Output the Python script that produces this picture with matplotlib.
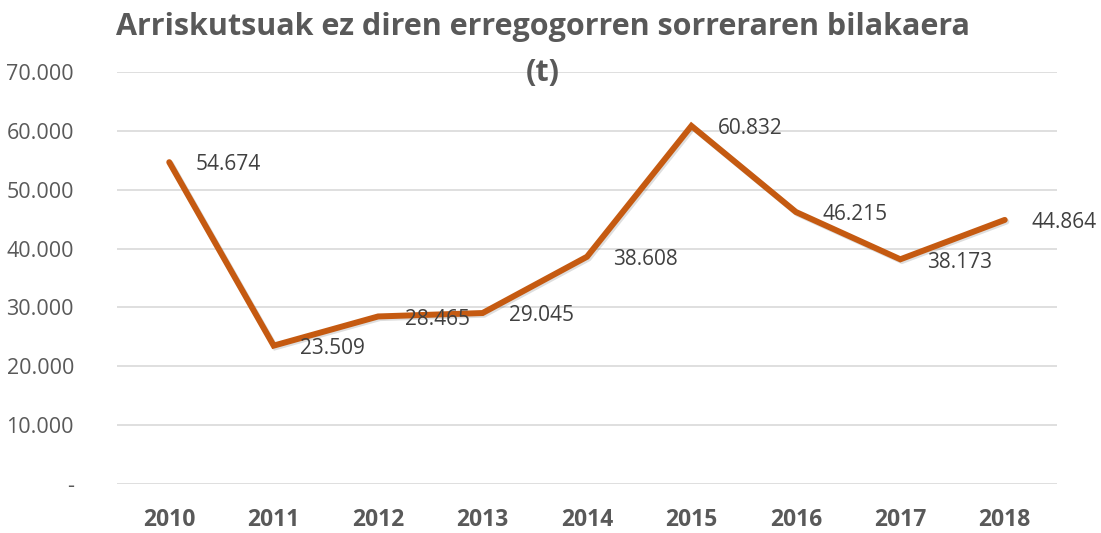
import matplotlib
matplotlib.use("Agg")
import matplotlib.pyplot as plt
import matplotlib.patheffects as pe
from matplotlib.ticker import FuncFormatter

plt.rcParams['font.family'] = ['Open Sans', 'DejaVu Sans']

# Data
years = ['2010', '2011', '2012', '2013', '2014', '2015', '2016', '2017', '2018']
tonnes = [54674, 23509, 28465, 29045, 38608, 60832, 46215, 38173, 44864]
title = "Arriskutsuak ez diren erregogorren sorreraren bilakaera\n(t)"


def thousands(v, pos=None):
    if v == 0:
        return '-'
    return f"{int(v):,}".replace(',', '.')


fig = plt.figure(figsize=(11.01, 5.33), dpi=100)
ax = fig.add_axes([0.1063, 0.0919, 0.8537, 0.7731])

x = list(range(len(years)))
ax.plot(x, tonnes, color='#C55A11', linewidth=4.3, solid_capstyle='round',
        solid_joinstyle='miter', zorder=3,
        path_effects=[pe.SimpleLineShadow(offset=(1.2, -1.2), alpha=0.13),
                      pe.Normal()])

for xi, v in zip(x, tonnes):
    ax.annotate(thousands(v), (xi, v), xytext=(19, -2), textcoords='offset points',
                ha='left', va='center', fontsize=15, color='#404040')

ax.set_xlim(-0.5, len(years) - 0.5)
ax.set_ylim(0, 70000)
ax.set_yticks(range(0, 70001, 10000))
ax.yaxis.set_major_formatter(FuncFormatter(thousands))
ax.set_xticks(x)
ax.set_xticklabels(years, fontweight='bold', fontsize=16.5)

ax.grid(axis='y', color='#D9D9D9', linewidth=1.2)
ax.set_axisbelow(True)
for s in ax.spines.values():
    s.set_visible(False)
ax.tick_params(axis='y', labelsize=15.5)
ax.tick_params(axis='both', length=0, colors='#595959')
ax.tick_params(axis='x', pad=17)
ax.tick_params(axis='y', pad=31)

fig.text(0.493, 0.978, title, ha='center', va='top', fontsize=22,
         fontweight='bold', color='#595959', linespacing=1.7, zorder=5)

fig.savefig('out.png', dpi=100)
